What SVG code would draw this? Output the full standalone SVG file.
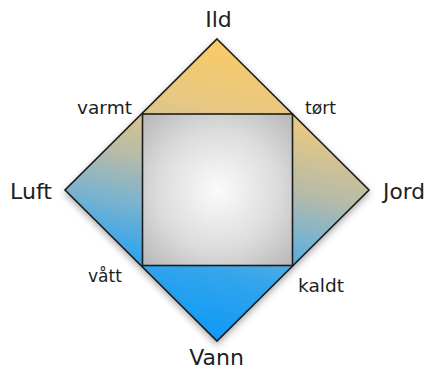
<svg xmlns="http://www.w3.org/2000/svg" width="428" height="369" viewBox="0 0 428 369">
  <defs>
    <linearGradient id="elemGrad" gradientUnits="userSpaceOnUse" x1="250" y1="39" x2="185" y2="341">
      <stop offset="0" stop-color="#fccb62"/>
      <stop offset="0.25" stop-color="#e6c784"/>
      <stop offset="0.45" stop-color="#b6bba8"/>
      <stop offset="0.6" stop-color="#7ab3cf"/>
      <stop offset="0.76" stop-color="#34a5ec"/>
      <stop offset="1" stop-color="#0a98f8"/>
    </linearGradient>
    <radialGradient id="coreGrad" gradientUnits="userSpaceOnUse" cx="218" cy="190" r="108">
      <stop offset="0" stop-color="#fbfbfb"/>
      <stop offset="0.55" stop-color="#dcdcdc"/>
      <stop offset="1" stop-color="#b5b5b5"/>
    </radialGradient>
    <filter id="shadow" x="-20%" y="-20%" width="140%" height="140%">
      <feDropShadow dx="0" dy="3" stdDeviation="3.5" flood-color="#000" flood-opacity="0.33"/>
    </filter>
  </defs>
  <style>
    .outline { stroke: #1c1c1c; stroke-width: 1.6; stroke-linejoin: miter; }
    .big { font-family: "DejaVu Sans", sans-serif; font-size: 22px; fill: #1e1e1e; }
    .small { font-family: "DejaVu Sans", sans-serif; font-size: 18px; fill: #1e1e1e; }
  </style>

  <g id="diamond">
    <polygon class="outline" points="217,39 369,190 217,341 65,190" fill="url(#elemGrad)" filter="url(#shadow)"/>
  </g>
  <g id="core">
    <rect class="outline" x="142.5" y="114" width="150" height="151.5" fill="url(#coreGrad)" stroke-width="2"/>
  </g>

  <g id="label-ild"><text class="big" x="218.5" y="27" text-anchor="middle">Ild</text></g>
  <g id="label-luft"><text class="big" x="10" y="199" textLength="42" lengthAdjust="spacingAndGlyphs">Luft</text></g>
  <g id="label-jord"><text class="big" x="383" y="199" textLength="42" lengthAdjust="spacingAndGlyphs">Jord</text></g>
  <g id="label-vann"><text class="big" x="216.5" y="365" text-anchor="middle">Vann</text></g>

  <g id="label-varmt"><text class="small" x="77" y="114" textLength="55" lengthAdjust="spacingAndGlyphs">varmt</text></g>
  <g id="label-tort"><text class="small" x="305" y="114" textLength="31" lengthAdjust="spacingAndGlyphs">tørt</text></g>
  <g id="label-vatt"><text class="small" x="88" y="282" textLength="34" lengthAdjust="spacingAndGlyphs">vått</text></g>
  <g id="label-kaldt"><text class="small" x="298" y="292" textLength="46" lengthAdjust="spacingAndGlyphs">kaldt</text></g>
</svg>
